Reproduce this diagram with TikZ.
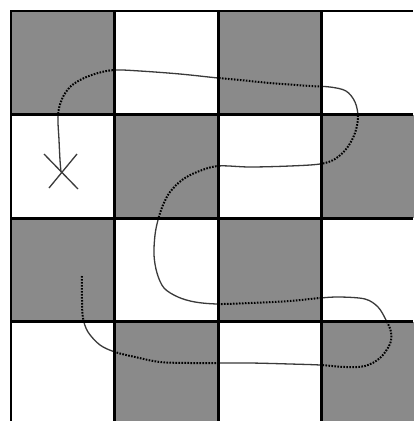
\documentclass[tikz,border=0pt]{standalone}
\usetikzlibrary{calc}
\definecolor{cellgray}{HTML}{8A8A8A}
\definecolor{pathgray}{HTML}{3A3A3A}
\begin{document}
\begin{tikzpicture}[x=1pt,y=-1pt,
  dark/.style={fill=cellgray},
  gridline/.style={line width=3pt,black},
  solidpart/.style={line width=1.3pt,pathgray,line cap=round,line join=round},
  dotpart/.style={line width=2pt,black,dash pattern=on 1.6pt off 1.4pt},
  cross/.style={line width=1.3pt,pathgray}]
\useasboundingbox (0,0) rectangle (413,421);
\fill[white] (0,0) rectangle (413,421);
% dark cells
\foreach \c/\r in {0/0,2/0,1/1,3/1,0/2,2/2,1/3,3/3}{
  \fill[dark] ({11+103.5*\c},{11+103.5*\r}) rectangle ({11+103.5*(\c+1)},{11+103.5*(\r+1)});
}
\def\snake{plot[smooth,tension=0.55] coordinates{
 (82,276) (82,300) (83,318) (88,332) (100,345) (115,352) (135,357) (160,362) (190,363) (217,363)
 (250,363) (290,364) (320,365) (345,367) (365,366) (380,358) (390,344) (391,332) (386,320)
 (378,307) (365,299) (340,297) (320,298) (290,301) (250,303) (218,304)
 (195,302) (178,297) (164,288) (157,273) (154,255) (155,235) (158,220) (163,205) (170,192)
 (182,180) (197,172) (218,166) (250,167) (290,166) (320,164) (335,159) (347,148) (355,133)
 (358,117) (355,102) (346,91) (330,87) (310,86) (270,83) (240,80) (218,78) (180,74) (140,71)
 (115,70) (98,73) (82,79) (70,87) (62,99) (58,115) (59,140) (60,160) (61,172)}}
% dotted part in dark cells
\begin{scope}
\clip (11,11) rectangle (114.5,114.5) (218,11) rectangle (321.5,114.5)
      (114.5,114.5) rectangle (218,218) (321.5,114.5) rectangle (425,218)
      (11,218) rectangle (114.5,321.5) (218,218) rectangle (321.5,321.5)
      (114.5,321.5) rectangle (218,425) (321.5,321.5) rectangle (425,425);
\draw[dotpart] \snake;
\end{scope}
% solid part in white cells
\begin{scope}
\clip (114.5,11) rectangle (218,114.5) (321.5,11) rectangle (425,114.5)
      (11,114.5) rectangle (114.5,218) (218,114.5) rectangle (321.5,218)
      (114.5,218) rectangle (218,321.5) (321.5,218) rectangle (425,321.5)
      (11,321.5) rectangle (114.5,425) (218,321.5) rectangle (321.5,425);
\draw[solidpart] \snake;
\end{scope}
% grid lines
\foreach \i in {1,2,3}{
  \draw[gridline] ({11+103.5*\i},10) -- ({11+103.5*\i},421);
  \draw[gridline] (10,{11+103.5*\i}) -- (413,{11+103.5*\i});
}
\draw[line width=2pt,black] (11,421) -- (11,11) -- (413,11);
% the X
\coordinate (xc) at (61,172);
\draw[cross] ($(xc)+(-17,-18)$) -- ($(xc)+(17,17)$);
\draw[cross] ($(xc)+(-12,16)$) -- ($(xc)+(16,-18)$);
\end{tikzpicture}
\end{document}
